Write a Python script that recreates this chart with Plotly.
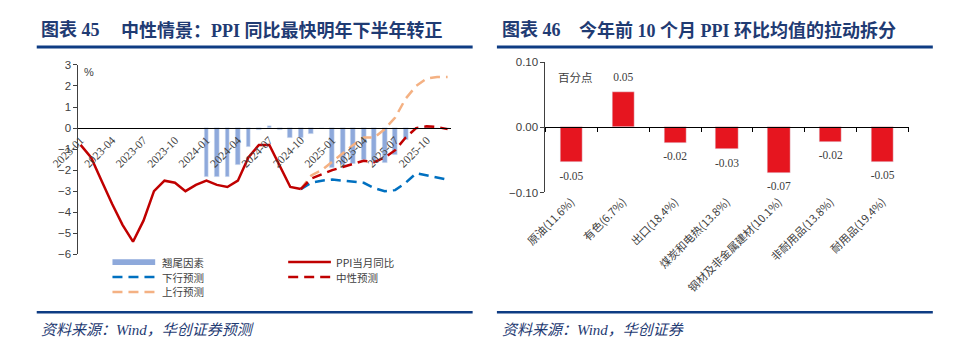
import plotly.graph_objects as go

W, H = 960, 355
def px(x): return x / W
def py(y): return 1 - y / H

# ---------------- data: left chart ----------------
months = ["2023-01","2023-02","2023-03","2023-04","2023-05","2023-06",
          "2023-07","2023-08","2023-09","2023-10","2023-11","2023-12",
          "2024-01","2024-02","2024-03","2024-04","2024-05","2024-06",
          "2024-07","2024-08","2024-09","2024-10","2024-11","2024-12",
          "2025-01","2025-02","2025-03","2025-04","2025-05","2025-06",
          "2025-07","2025-08","2025-09","2025-10","2025-11","2025-12"]
tick_months = ["2023-01","2023-04","2023-07","2023-10","2024-01","2024-04",
               "2024-07","2024-10","2025-01","2025-04","2025-07","2025-10"]

actual_months = months[:22]
ppi_actual = [-0.8,-1.4,-2.5,-3.6,-4.6,-5.4,-4.4,-3.0,-2.5,-2.6,-3.0,-2.7,
              -2.5,-2.7,-2.8,-2.5,-1.4,-0.8,-0.8,-1.8,-2.8,-2.9]

fc_months = months[21:]
fc_down = [-2.9,-2.6,-2.5,-2.45,-2.5,-2.55,-2.6,-2.85,-3.0,-2.95,-2.6,-2.15,-2.25,-2.35,-2.45]
fc_mid  = [-2.9,-2.4,-2.2,-2.0,-1.85,-1.7,-1.55,-1.62,-1.4,-1.05,-0.45,0.0,0.08,0.05,-0.05]
fc_up   = [-2.9,-2.25,-2.0,-1.6,-1.2,-0.8,-0.45,-0.45,-0.05,0.5,1.4,2.0,2.35,2.43,2.43]

carry_months = months[12:]
carry = [-2.33,-2.33,-2.33,-1.76,-0.89,-0.1,0.1,-0.1,-0.47,-0.47,-0.3,0.0,
         -1.9,-1.75,-1.7,-1.5,-1.55,-1.65,-1.3,-0.55,0.0,0.05,0.0,0.0]

# ---------------- data: right chart ----------------
cats = ["原油(11.6%)","有色(6.7%)","出口(18.4%)","煤炭和电热(13.8%)",
        "钢材及非金属建材(10.1%)","非耐用品(13.8%)","耐用品(19.4%)"]
contrib = [-0.054,0.054,-0.024,-0.034,-0.070,-0.022,-0.053]

# ---------------- styles ----------------
NAVY = "#0E3C83"
TITLE_C = "#1F3B73"
TXT = "#404040"
SANS = "Liberation Sans, Arial, sans-serif"
SERIF = "Liberation Serif, Times New Roman, serif"
CJK = "Noto Sans CJK SC, sans-serif"
DASH = "10px,6px"

fig = go.Figure()

# left chart traces
fig.add_trace(go.Bar(x=carry_months, y=carry, marker_color="#8EA9DB", width=0.45,
                     xaxis="x", yaxis="y", name="翘尾因素"))
fig.add_trace(go.Scatter(x=fc_months, y=fc_up, mode="lines", xaxis="x", yaxis="y",
                         line=dict(color="#F4B183", width=2.5, dash=DASH), name="上行预测"))
fig.add_trace(go.Scatter(x=fc_months, y=fc_down, mode="lines", xaxis="x", yaxis="y",
                         line=dict(color="#0070C0", width=2.5, dash=DASH), name="下行预测"))
fig.add_trace(go.Scatter(x=fc_months, y=fc_mid, mode="lines", xaxis="x", yaxis="y",
                         line=dict(color="#C00000", width=2.5, dash=DASH), name="中性预测"))
fig.add_trace(go.Scatter(x=actual_months, y=ppi_actual, mode="lines", xaxis="x", yaxis="y",
                         line=dict(color="#C00000", width=2.5), name="PPI当月同比"))

# right chart traces
fig.add_trace(go.Bar(x=cats, y=contrib, marker_color="#E6151F", width=0.43,
                     xaxis="x2", yaxis="y2"))
fig.add_trace(go.Scatter(x=cats, y=contrib, mode="markers+text", xaxis="x2", yaxis="y2",
                         marker=dict(size=12, opacity=0),
                         text=[f"{v:.2f}" for v in contrib],
                         textposition=["bottom center" if v < 0 else "top center" for v in contrib],
                         textfont=dict(family=SERIF, size=11.5, color=TXT), hoverinfo="skip"))
fig.add_trace(go.Scatter(x=cats, y=[0]*len(cats), mode="markers", xaxis="x3", yaxis="y2",
                         marker=dict(size=1, opacity=0), hoverinfo="skip"))

zero_left = py(126.3)
zero_right = py(125.5)

fig.update_layout(
    width=W, height=H, margin=dict(l=0, r=0, t=0, b=0),
    paper_bgcolor="white", plot_bgcolor="rgba(0,0,0,0)",
    showlegend=False, bargap=0,
    xaxis=dict(domain=[px(52), px(436)], type="category", categoryorder="array",
               categoryarray=months, range=[-0.2, 35.35], anchor="free", position=zero_left,
               tickvals=tick_months, ticktext=tick_months, tickangle=-45,
               showline=True, linecolor="black", linewidth=1, ticks="",
               showgrid=False, zeroline=False,
               tickfont=dict(family=SERIF, size=11.5, color=TXT)),
    yaxis=dict(domain=[py(257), py(61)], range=[-6, 3], anchor="x",
               tickvals=[-6,-5,-4,-3,-2,-1,0,1,2,3], showline=True, linecolor="#404040",
               linewidth=1, ticks="outside", ticklen=4, tickcolor="#404040",
               showgrid=False, zeroline=False,
               tickfont=dict(family=SANS, size=11.5, color=TXT)),
    xaxis2=dict(domain=[px(533), px(907)], type="category", anchor="y2",
                range=[-0.5, 6.5], tickangle=-45, showline=False, ticks="",
                showgrid=False, zeroline=False,
                tickfont=dict(family=CJK, size=11, color=TXT)),
    xaxis3=dict(domain=[px(533), px(907)], type="category", overlaying="x2",
                anchor="free", position=zero_right, range=[-0.5, 6.5],
                showticklabels=False, showline=True, linecolor="black", linewidth=1,
                ticks="outside", ticklen=4, tickcolor="black", tickson="boundaries",
                showgrid=False, zeroline=False),
    yaxis2=dict(domain=[py(193), py(58)], range=[-0.1, 0.1], anchor="x2",
                tickvals=[-0.1, 0, 0.1], tickformat=".2f", showline=True,
                linecolor="#404040", linewidth=1, ticks="outside", ticklen=4,
                tickcolor="#404040", showgrid=False, zeroline=False,
                tickfont=dict(family=SANS, size=11.5, color=TXT)),
)

ann = []
def A(x, y, text, size, color, family, xanchor="left", bold=False, italic=False):
    ann.append(dict(x=px(x), y=py(y), xref="paper", yref="paper", text=text,
                    showarrow=False, xanchor=xanchor, yanchor="middle",
                    font=dict(size=size, color=color, family=family,
                              weight="bold" if bold else "normal",
                              style="italic" if italic else "normal")))

TFONT = "Liberation Serif, Noto Sans CJK SC, serif"
A(11, 25, "图表 45", 18, TITLE_C, TFONT, bold=True)
A(94, 25, "中性情景：PPI 同比最快明年下半年转正", 18, TITLE_C, TFONT, bold=True)
A(486, 25, "图表 46", 18, TITLE_C, TFONT, bold=True)
A(566, 25, "今年前 10 个月 PPI 环比均值的拉动拆分", 18, TITLE_C, TFONT, bold=True)
A(11, 335, "资料来源：Wind，华创证券预测", 15, TITLE_C, TFONT, italic=True)
A(486, 335, "资料来源：Wind，华创证券", 15, TITLE_C, TFONT, italic=True)
A(56, 68, "%", 11, TXT, SANS)
A(544, 74, "百分点", 11.5, TXT, CJK)

# legend (manual)
LF = 10.5
A(136, 265, "翘尾因素", LF, TXT, CJK)
A(315, 265, "PPI当月同比", LF, TXT, CJK)
A(136, 280.5, "下行预测", LF, TXT, CJK)
A(315, 280.5, "中性预测", LF, TXT, CJK)
A(136, 296, "上行预测", LF, TXT, CJK)

shapes = []
def L(x0, y0, x1, y1, color, width, dash="solid"):
    shapes.append(dict(type="line", xref="paper", yref="paper", x0=px(x0), y0=py(y0),
                       x1=px(x1), y1=py(y1), line=dict(color=color, width=width, dash=dash)))

L(9, 42.5, 458, 42.5, NAVY, 3)
L(483, 42.5, 932, 42.5, NAVY, 3)
L(9, 317, 458, 317, NAVY, 2.5)
L(483, 317, 932, 317, NAVY, 2.5)
shapes.append(dict(type="rect", xref="paper", yref="paper", x0=px(87), x1=px(131),
                   y0=py(268), y1=py(262), fillcolor="#8EA9DB", line=dict(width=0)))
L(268, 265, 312, 265, "#C00000", 2.5)
L(87, 280.5, 131, 280.5, "#0070C0", 2.5, DASH)
L(268, 280.5, 312, 280.5, "#C00000", 2.5, DASH)
L(87, 296, 131, 296, "#F4B183", 2.5, DASH)

fig.update_layout(annotations=ann, shapes=shapes)
fig.write_html("out.html")
